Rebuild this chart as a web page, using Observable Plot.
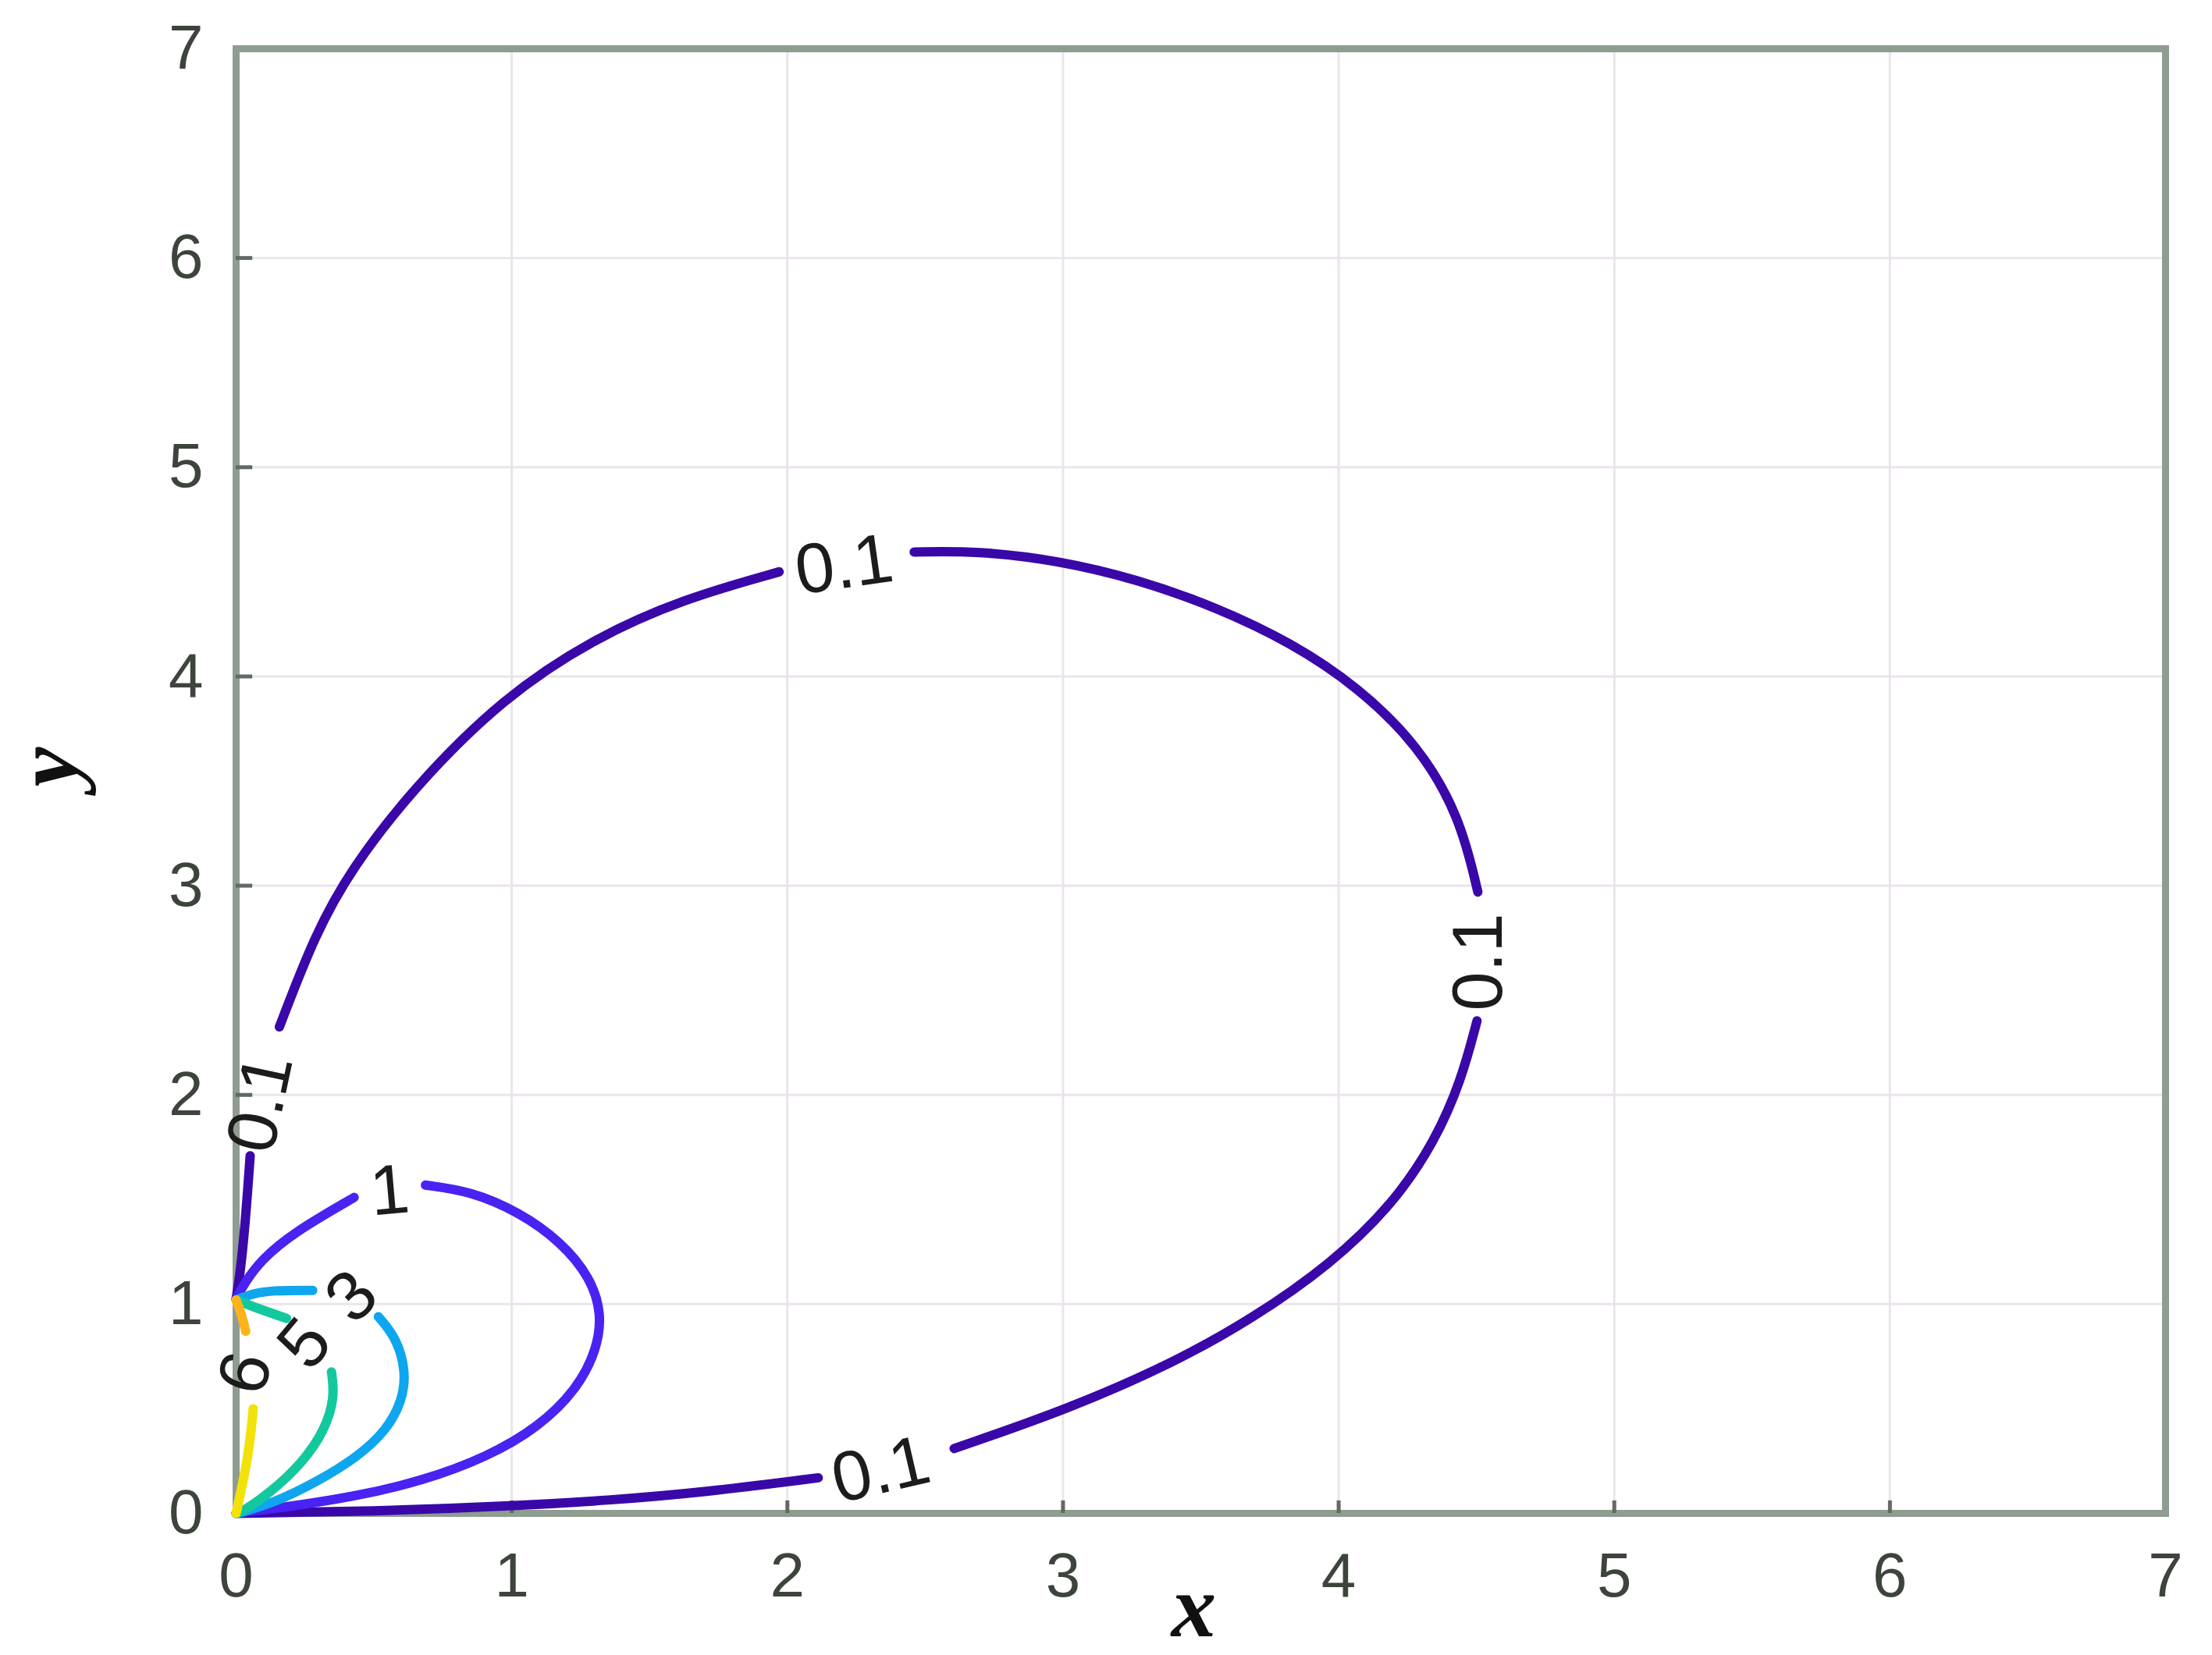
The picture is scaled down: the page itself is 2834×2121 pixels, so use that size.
<!DOCTYPE html>
<html><head><meta charset="utf-8">
<script src="https://cdn.jsdelivr.net/npm/d3@7"></script>
<script src="https://cdn.jsdelivr.net/npm/@observablehq/plot@0.6"></script>
<style>html,body{margin:0;padding:0;background:#fff;} #chart svg{display:block}</style>
</head><body><div id="chart"></div>
<script>
// ---- data ----
const xTicks = [0, 1, 2, 3, 4, 5, 6, 7];
const yTicks = [0, 1, 2, 3, 4, 5, 6, 7];
const levels = ["0.1", "1", "3", "5", "6"];

// contour 0.1 (split where its labels interrupt it)
const c01_bottom = [[0,0],[0.5,0.01],[1.0,0.035],[1.35,0.062],[1.694,0.1],[2.112,0.17]];
const c01_right  = [[2.605,0.31],[3.022,0.5],[3.402,0.72],[3.686,0.93],[3.971,1.19],[4.199,1.48],[4.35,1.78],[4.445,2.07],[4.502,2.354]];
const c01_top    = [[4.505,2.97],[4.44,3.33],[4.29,3.67],[4.07,3.95],[3.83,4.16],[3.558,4.33],[3.269,4.465],[2.98,4.555],[2.691,4.6],[2.46,4.595]];
const c01_left   = [[1.97,4.5],[1.62,4.37],[1.295,4.18],[0.97,3.9],[0.645,3.47],[0.417,3.08],[0.287,2.77],[0.157,2.325]];
const c01_axis   = [[0.051,1.709],[0.032,1.363],[0.013,1.128],[0,1.026]];
// contour 1
const c1_upper = [[0,1.026],[0.03,1.1],[0.09,1.21],[0.205,1.34],[0.428,1.51]];
const c1_loop  = [[0.687,1.569],[0.851,1.54],[1.027,1.44],[1.18,1.297],[1.286,1.126],[1.327,0.954],[1.309,0.783],[1.239,0.597],[1.098,0.412],[0.91,0.269],[0.675,0.155],[0.44,0.083],[0.205,0.034],[0.02,0.005],[0,0]];
// contour 3
const c3_upper = [[0,1.02],[0.06,1.05],[0.13,1.066],[0.278,1.066]];
const c3_lower = [[0.516,0.94],[0.581,0.84],[0.616,0.683],[0.604,0.54],[0.546,0.397],[0.44,0.269],[0.299,0.155],[0.146,0.055],[0.02,0.005],[0,0]];
// contour 5
const c5_upper = [[0,1.02],[0.079,0.979],[0.183,0.932]];
const c5_lower = [[0.346,0.676],[0.358,0.555],[0.322,0.397],[0.24,0.24],[0.123,0.098],[0.02,0.005],[0,0]];
// contour 6
const c6_lower = [[0,0],[0.02,0.12],[0.042,0.265],[0.055,0.4],[0.062,0.5]];
const c6_upper = [[0,1.02],[0.02,0.95],[0.035,0.87]];

// contour labels
const labelText  = ["0.1", "0.1", "0.1", "0.1", "1", "3", "5", "6"];
const labelX     = [2.206, 4.51, 2.339, 0.089, 0.557, 0.42, 0.25, 0.035];
const labelY     = [4.531, 2.635, 0.206, 1.96, 1.54, 1.035, 0.81, 0.67];
const labelAngle = [-8, -90, -13, -78, -5, -45, -50, -75];

// ---- styles ----
const palette = {"0.1": "#3a08a8", "1": "#4a22f2", "3": "#0ea6ee", "5": "#14c89e", "6": "#f2e20a"};
const orange6 = "#fdb41c";
const fontSans = "'Liberation Sans', Arial, sans-serif";
const fontSerif = "'Liberation Serif', serif";

// ---- build tables ----
const segs = [
  ["0.1", c01_bottom], ["0.1", c01_right], ["0.1", c01_top], ["0.1", c01_left], ["0.1", c01_axis],
  ["1", c1_upper], ["1", c1_loop],
  ["3", c3_upper], ["3", c3_lower],
  ["5", c5_upper], ["5", c5_lower],
  ["6", c6_lower]
];
const rows = [];
segs.forEach(([level, pts], i) => pts.forEach(([x, y]) => rows.push({level, seg: i, x, y})));
const orangeRows = c6_upper.map(([x, y]) => ({x, y}));
const labels = labelText.map((t, i) => ({text: t, x: labelX[i], y: labelY[i], angle: labelAngle[i]}));

const chart = Plot.plot({
  width: 2834,
  height: 2121,
  marginLeft: 302,
  marginRight: 60,
  marginTop: 62,
  marginBottom: 182,
  style: {fontFamily: fontSans, background: "#fff", overflow: "visible"},
  x: {domain: [0, 7]},
  y: {domain: [0, 7]},
  color: {domain: levels, range: levels.map(l => palette[l])},
  marks: [
    Plot.gridX(xTicks, {stroke: "#ebe4ec", strokeOpacity: 1, strokeWidth: 3}),
    Plot.gridY(yTicks, {stroke: "#ebe4ec", strokeOpacity: 1, strokeWidth: 3}),
    Plot.frame({stroke: "#8f9c90", strokeWidth: 9}),
    Plot.ruleY(yTicks.slice(1, -1), {y: d => d, x1: 0, x2: 0.06, stroke: "#5f6b60", strokeWidth: 5}),
    Plot.ruleX(xTicks.slice(1, -1), {x: d => d, y1: 0, y2: 0.06, stroke: "#5f6b60", strokeWidth: 5}),
    Plot.axisX({ticks: xTicks, tickSize: 0, tickPadding: 50, fontSize: 80, fill: "#3c443c", label: null, tickFormat: d => String(d)}),
    Plot.axisY({ticks: yTicks, tickSize: 0, tickPadding: 42, fontSize: 80, fill: "#3c443c", label: null, tickFormat: d => String(d)}),
    Plot.line(rows, {x: "x", y: "y", z: "seg", stroke: "level", strokeWidth: 12, curve: "basis", strokeLinecap: "round", strokeLinejoin: "round"}),
    Plot.line(orangeRows, {x: "x", y: "y", stroke: orange6, strokeWidth: 12, curve: "basis", strokeLinecap: "round"}),
    Plot.text(labels, {x: "x", y: "y", text: "text", rotate: "angle", fontSize: 90, fill: "#1c1c1c", fontFamily: fontSans}),
    Plot.text(["x"], {text: d => d, frameAnchor: "bottom", dx: -9, dy: 121, lineAnchor: "middle", textAnchor: "middle", fontSize: 115, fontStyle: "italic", fontWeight: "bold", fontFamily: fontSerif, fill: "#111"}),
    Plot.text(["y"], {text: d => d, frameAnchor: "left", dx: -240, dy: -18, rotate: -90, lineAnchor: "middle", textAnchor: "middle", fontSize: 115, fontStyle: "italic", fontWeight: "bold", fontFamily: fontSerif, fill: "#111"})
  ]
});
document.getElementById("chart").appendChild(chart);
</script>
</body></html>
